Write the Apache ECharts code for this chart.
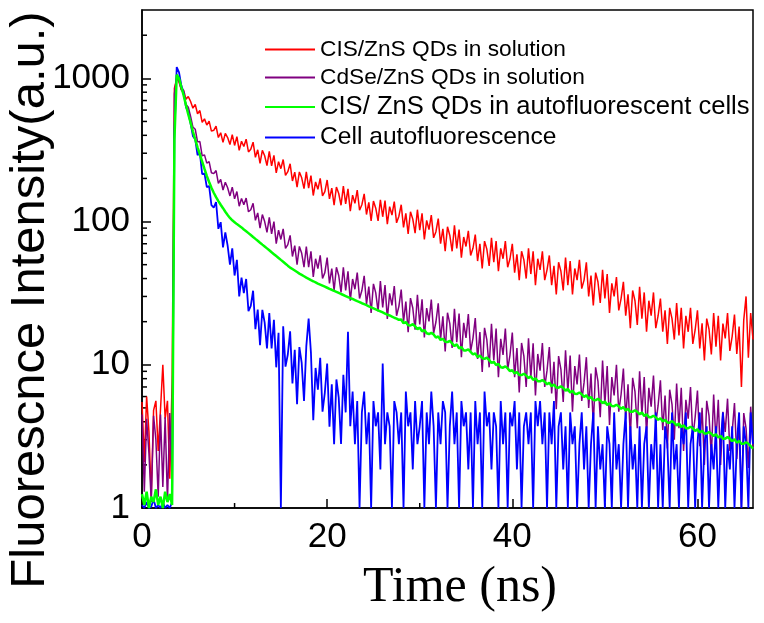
<!DOCTYPE html>
<html>
<head>
<meta charset="utf-8">
<title>Fluorescence decay</title>
<script src="https://cdn.jsdelivr.net/npm/echarts@6.0.0/dist/echarts.min.js"></script>
<style>
  html, body { margin: 0; padding: 0; background: #fff; }
  #chart { width: 764px; height: 623px; }
</style>
</head>
<body>
<div id="chart"></div>
<script>
// time channels (ns), one row = 2 ns
const timeNs = [
  0, 0.25, 0.5, 0.75, 1, 1.25, 1.5, 1.75,
  2, 2.25, 2.5, 2.75, 3, 3.25, 3.5, 3.75,
  4, 4.25, 4.5, 4.75, 5, 5.25, 5.5, 5.75,
  6, 6.25, 6.5, 6.75, 7, 7.25, 7.5, 7.75,
  8, 8.25, 8.5, 8.75, 9, 9.25, 9.5, 9.75,
  10, 10.25, 10.5, 10.75, 11, 11.25, 11.5, 11.75,
  12, 12.25, 12.5, 12.75, 13, 13.25, 13.5, 13.75,
  14, 14.25, 14.5, 14.75, 15, 15.25, 15.5, 15.75,
  16, 16.25, 16.5, 16.75, 17, 17.25, 17.5, 17.75,
  18, 18.25, 18.5, 18.75, 19, 19.25, 19.5, 19.75,
  20, 20.25, 20.5, 20.75, 21, 21.25, 21.5, 21.75,
  22, 22.25, 22.5, 22.75, 23, 23.25, 23.5, 23.75,
  24, 24.25, 24.5, 24.75, 25, 25.25, 25.5, 25.75,
  26, 26.25, 26.5, 26.75, 27, 27.25, 27.5, 27.75,
  28, 28.25, 28.5, 28.75, 29, 29.25, 29.5, 29.75,
  30, 30.25, 30.5, 30.75, 31, 31.25, 31.5, 31.75,
  32, 32.25, 32.5, 32.75, 33, 33.25, 33.5, 33.75,
  34, 34.25, 34.5, 34.75, 35, 35.25, 35.5, 35.75,
  36, 36.25, 36.5, 36.75, 37, 37.25, 37.5, 37.75,
  38, 38.25, 38.5, 38.75, 39, 39.25, 39.5, 39.75,
  40, 40.25, 40.5, 40.75, 41, 41.25, 41.5, 41.75,
  42, 42.25, 42.5, 42.75, 43, 43.25, 43.5, 43.75,
  44, 44.25, 44.5, 44.75, 45, 45.25, 45.5, 45.75,
  46, 46.25, 46.5, 46.75, 47, 47.25, 47.5, 47.75,
  48, 48.25, 48.5, 48.75, 49, 49.25, 49.5, 49.75,
  50, 50.25, 50.5, 50.75, 51, 51.25, 51.5, 51.75,
  52, 52.25, 52.5, 52.75, 53, 53.25, 53.5, 53.75,
  54, 54.25, 54.5, 54.75, 55, 55.25, 55.5, 55.75,
  56, 56.25, 56.5, 56.75, 57, 57.25, 57.5, 57.75,
  58, 58.25, 58.5, 58.75, 59, 59.25, 59.5, 59.75,
  60, 60.25, 60.5, 60.75, 61, 61.25, 61.5, 61.75,
  62, 62.25, 62.5, 62.75, 63, 63.25, 63.5, 63.75,
  64, 64.25, 64.5, 64.75, 65, 65.25, 65.5, 65.75,
  66
]

// CIS/ZnS QDs in solution (red)
const cisSolution = [
  5.5, 2.1, 6.0, 3.4, 1.2, 4.8, 5.6, 2.5,
  4.9, 10, 4.2, 5.6, 1.6, 7.5, 850, 1000,
  940, 833, 825, 714, 746, 689, 619, 657,
  566, 596, 492, 521, 472, 502, 428, 434,
  463, 386, 417, 357, 413, 386, 345, 405,
  340, 391, 314, 364, 334, 376, 306, 320,
  358, 281, 317, 255, 314, 288, 246, 309,
  245, 290, 219, 262, 234, 271, 210, 223,
  253, 192, 221, 174, 222, 202, 170, 222,
  171, 209, 152, 189, 168, 200, 151, 162,
  195, 144, 171, 130, 174, 157, 130, 177,
  133, 169, 118, 153, 134, 166, 120, 131,
  156, 112, 136, 101, 139, 124, 101, 142,
  108, 140, 96, 127, 111, 138, 98, 109,
  131, 91, 114, 82, 117, 104, 83, 121,
  87, 114, 75, 102, 88, 111, 77, 85,
  105, 70, 89, 62, 92, 80, 62, 94,
  65, 88, 56, 78, 67, 86, 58, 65,
  81, 53, 70, 47, 73, 64, 49, 77,
  52, 73, 45, 65, 55, 73, 48, 55,
  70, 44, 59, 39, 62, 54, 40, 65,
  43, 62, 36, 55, 46, 62, 39, 46,
  58, 36, 49, 31, 52, 45, 33, 56,
  36, 53, 31, 47, 39, 54, 34, 39,
  52, 30, 42, 26, 44, 38, 27, 46,
  29, 43, 23, 37, 30, 41, 24, 29,
  38, 22, 31, 18, 33, 28, 19, 35,
  21, 32, 17, 28, 22, 32, 18, 22,
  29, 17, 24, 14, 25, 21, 15, 27,
  16, 25, 13, 22, 17, 25, 14, 17.5,
  24, 13, 19.5, 10.7, 21, 17.7, 11.8, 23,
  13.4, 22, 10.7, 19.4, 15.3, 23, 12.5, 15.8,
  22.4, 11.9, 18.5, 7, 20.5, 30, 11.2, 23,
  15
]

// CdSe/ZnS QDs in solution (purple)
const cdseSolution = [
  4.5, 1.3, 4.2, 2.4, 1.1, 4.4, 3.0, 1.2,
  4.5, 1.4, 4.3, 1.1, 4.6, 1.5, 780, 1040,
  960, 830, 782, 656, 628, 543, 456, 441,
  360, 362, 288, 292, 256, 262, 219, 216,
  227, 185, 197, 166, 188, 172, 151, 174,
  144, 162, 128, 145, 131, 146, 117, 121,
  134, 102, 115, 90, 112, 100, 84, 107,
  82, 100, 70, 87, 75, 89, 65, 69,
  80, 57, 68, 50, 67, 60, 48, 67,
  48, 62, 41, 55, 47, 58, 40, 44,
  56, 37, 47, 33, 48, 42, 32, 48,
  33, 45, 28, 39.7, 33.7, 44, 29, 33,
  41.8, 26.5, 35.1, 23, 36.7, 31.8, 23.6, 38.4,
  25.1, 36, 20.9, 31.5, 26, 35.5, 22, 25.6,
  33.5, 19.9, 27.6, 16.9, 29.2, 24.9, 17.6, 30.8,
  19.1, 28.7, 15.5, 24.9, 20.1, 28.5, 16.6, 19.9,
  26.9, 15, 21.8, 12.4, 23.1, 19.4, 13.1, 24.6,
  14.4, 22.8, 11.3, 19.6, 15.4, 22.6, 12.4, 15.3,
  21.2, 11, 16.9, 8.9, 18.1, 14.9, 9.6, 19.3,
  10.7, 17.9, 8.2, 15.2, 11.7, 17.9, 9.3, 11.7,
  16.8, 8.2, 13.1, 6.4, 14.2, 11.5, 7, 15.3,
  8.1, 14.1, 6.1, 11.9, 9.1, 14.2, 7, 9.1,
  13.3, 6.3, 10.5, 4.9, 11.5, 9.3, 5.5, 12.6,
  6.5, 11.6, 4.7, 9.8, 7.3, 11.8, 5.6, 7.5,
  11.3, 5, 8.7, 3.75, 9.6, 7.7, 4.3, 10.7,
  5.3, 9.8, 3.8, 8.2, 6.1, 10, 4.7, 6.2,
  9.4, 4.2, 7.3, 3.1, 8.1, 6.5, 3.6, 9,
  4.5, 8.2, 3.2, 6.9, 5.1, 8.4, 3.9, 5.2,
  7.8, 3.5, 6.1, 2.6, 6.7, 5.3, 3, 7.4,
  3.6, 6.9, 2.5, 5.7, 4.2, 7, 3.1, 4.3,
  6.6, 2.7, 5, 2, 5.6, 4.4, 2.3, 6.2,
  2.9, 5.7, 2, 4.7, 3.4, 5.8, 2.5, 3.4,
  5.4, 2.2, 4.1, 1, 4.6, 3.6, 1.9, 5.1,
  2.6
]

// CIS/ZnS QDs in autofluorescent cells (green)
const cisInCells = [
  1.25, 1.05, 1.3, 1.0, 1.2, 1.1, 1.35, 1.05,
  1.2, 1.0, 1.3, 1.1, 1.25, 1.05, 370, 1060,
  1000, 870, 760, 650, 560, 490, 425, 375,
  330, 295, 262, 233, 208, 189, 172, 159,
  148, 139, 131, 124, 117, 111, 106, 102,
  99, 96, 93.5, 91, 88, 85.5, 83, 80.5,
  78, 75.7, 73.5, 71.2, 69, 67, 65, 63,
  61, 59.2, 57.4, 55.7, 54, 52.4, 50.8, 49.2,
  47.7, 46.6, 45.5, 44.4, 43.3, 42.4, 41.5, 40.6,
  39.8, 39.0, 38.3, 37.6, 36.9, 36.3, 35.7, 35.1,
  34.5, 33.9, 33.4, 32.8, 32.3, 31.8, 31.2, 30.7,
  30.2, 29.7, 29.2, 28.8, 28.3, 27.8, 27.4, 26.9,
  26.5, 26.1, 25.6, 25.2, 24.8, 24.4, 24.0, 23.6,
  23.2, 22.8, 22.4, 22.1, 21.7, 21.3, 21.0, 20.6,
  20.7, 19.5, 19.9, 18.9, 18.8, 19.2, 18.6, 17.7,
  18.2, 17.1, 17.5, 16.6, 16.4, 16.7, 16.3, 15.5,
  15.8, 14.9, 15.2, 14.5, 14.4, 14.7, 14.1, 13.5,
  13.9, 13.0, 13.3, 12.6, 12.6, 12.8, 12.3, 11.8,
  12.0, 11.3, 11.6, 11.1, 11.0, 11.2, 10.8, 10.3,
  10.5, 9.95, 10.15, 9.6, 9.55, 9.74, 9.44, 9.02,
  9.18, 8.68, 8.91, 8.5, 8.47, 8.66, 8.42, 8.08,
  8.3, 7.84, 8.05, 7.67, 7.66, 7.83, 7.62, 7.3,
  7.5, 7.08, 7.28, 6.94, 6.92, 7.07, 6.89, 6.6,
  6.78, 6.4, 6.58, 6.27, 6.26, 6.4, 6.22, 5.97,
  6.13, 5.79, 5.95, 5.67, 5.65, 5.78, 5.63, 5.39,
  5.54, 5.24, 5.39, 5.15, 5.14, 5.26, 5.13, 4.92,
  5.07, 4.79, 4.93, 4.7, 4.7, 4.82, 4.7, 4.51,
  4.64, 4.39, 4.52, 4.31, 4.31, 4.41, 4.29, 4.13,
  4.24, 4.02, 4.13, 3.95, 3.94, 4.04, 3.93, 3.77,
  3.89, 3.68, 3.78, 3.61, 3.6, 3.69, 3.6, 3.45,
  3.55, 3.36, 3.46, 3.31, 3.31, 3.39, 3.3, 3.18,
  3.27, 3.1, 3.19, 3.05, 3.05, 3.13, 3.05, 2.93,
  3.02, 2.86, 2.94, 2.81, 2.81, 2.88, 2.81, 2.7,
  2.6
]

// Cell autofluorescence (blue); late counts sit on a few discrete levels
const cellAuto = [
  1.05, 1, 1.1, 1, 1.02, 1.15, 1, 1.05,
  1, 1.1, 1, 1.05, 1, 1.1, 400, 1200,
  1100, 890, 800, 630, 580, 483, 395, 375,
  291, 301, 214, 217, 174, 177, 130, 125,
  137, 89, 99, 66, 84, 68, 50, 65,
  42, 54, 30, 40.6, 31.6, 39.7, 23.7, 25.8,
  32.9, 17.7, 24.3, 13.7, 24.2, 19.7, 13, 23,
  13, 20.6, 9.6, 16.7, 1, 18.6, 9.7, 11.8,
  17.1, 7.4, 12.7, 5.3, 13.3, 10.3, 5.6, 13.5,
  21, 12.1, 4.1, 9.5, 6.7, 11.2, 4.7, 6.4,
  10.2, 3.7, 7.3, 2.79, 7.9, 5.9, 2.8, 8.5,
  4.65, 17, 3.72, 6.5, 2.79, 5.58, 1, 4.65,
  6.5, 2.79, 4.65, 1, 5.58, 3.72, 4.65, 1.86,
  10.2, 2.79, 4.65, 3.72, 1, 5.58, 4.65, 2.79,
  4.65, 1, 6.5, 3.72, 4.65, 1.86, 5.58, 2.79,
  3.72, 5.58, 1, 4.65, 2.79, 6.5, 3.72, 1,
  4.65, 2.79, 5.58, 4.65, 1, 3.72, 6.5, 2.79,
  4.65, 1, 5.58, 3.72, 4.65, 1.86, 4.65, 1,
  5.58, 2.79, 4.65, 1, 6.5, 3.72, 4.65, 1.86,
  4.65, 3.72, 1, 5.58, 2.79, 4.65, 1, 4.65,
  3.72, 5.58, 1.86, 4.65, 1, 3.72, 4.65, 2.79,
  4.65, 1, 5.58, 3.72, 5.58, 2.79, 4.65, 1,
  4.65, 2.79, 5.58, 1, 3.72, 4.65, 1.86, 3.72,
  1, 4.65, 2.79, 3.72, 1, 2.79, 4.65, 1.86,
  3.72, 1, 2.79, 4.65, 1, 3.72, 1.86, 2.79,
  1, 3.72, 2.79, 1, 4.65, 1.86, 2.79, 1,
  2.79, 4.65, 1, 3.72, 1.86, 2.79, 1, 3.72,
  1, 2.79, 3.72, 1, 2.79, 1.86, 4.65, 1,
  2.79, 1, 3.72, 2.79, 1, 4.65, 1.86, 2.79,
  1, 3.72, 2.79, 4.65, 1, 2.79, 3.72, 1,
  2.79, 4.65, 1, 2.79, 3.72, 1, 2.79, 1.86,
  3.72, 1, 2.79, 4.65, 1, 2.79, 1.86, 3.72,
  1, 2.79, 4.65, 1, 3.72, 2.79, 1, 4.65,
  2.79
]

const seriesNames = [
  'CIS/ZnS QDs in solution',
  'CdSe/ZnS QDs in solution',
  'CIS/ ZnS QDs in autofluorescent cells',
  'Cell autofluorescence'
]
const seriesColors = ['#ff0000', '#800080', '#00ff00', '#0000ff']
// the last two legend entries are set larger in the original
const legendFontSizes = [22.7, 22.7, 25.6, 24.6]

const xMinorTicks = [10, 30, 50]
const yMinorTicks = [2, 3, 4, 5, 6, 7, 8, 9, 20, 30, 40, 50, 60, 70, 80, 90,
  200, 300, 400, 500, 600, 700, 800, 900, 2000]

const sansFont = 'Arial, "Liberation Sans", sans-serif'
const serifFont = '"Times New Roman", "Liberation Serif", serif'

const pairs = vals => timeNs.map((t, i) => [t, vals[i]])

const lineSeries = (idx, vals, width) => ({
  name: seriesNames[idx],
  type: 'line',
  data: pairs(vals),
  color: seriesColors[idx],
  showSymbol: false,
  symbol: 'none',
  clip: true,
  lineStyle: { color: seriesColors[idx], width: width },
  itemStyle: { color: seriesColors[idx] },
  emphasis: { disabled: true },
  animation: false
})

const chart = echarts.init(document.getElementById('chart'), null, { renderer: 'canvas' })

const option = {
  backgroundColor: '#fff',
  animation: false,
  grid: {
    left: 142,
    right: 11,
    top: 10,
    bottom: 115,
    show: true,
    borderColor: '#000',
    borderWidth: 1.5,
    backgroundColor: 'transparent'
  },
  legend: {
    data: seriesNames.map((name, i) => ({ name: name, textStyle: { fontSize: legendFontSizes[i] } })),
    orient: 'vertical',
    left: 260,
    top: 33,
    itemWidth: 50,
    itemHeight: 2,
    itemGap: 5,
    icon: 'rect',
    selectedMode: false,
    textStyle: { fontFamily: sansFont, fontSize: 22.7, color: '#000' }
  },
  xAxis: {
    type: 'value',
    min: 0,
    max: 66,
    interval: 20,
    axisLine: { show: true, lineStyle: { color: '#000', width: 1.5 } },
    axisTick: { show: true, inside: true, length: 9, lineStyle: { color: '#000', width: 1.5 } },
    axisLabel: {
      showMaxLabel: false,
      margin: 12,
      color: '#000',
      fontFamily: sansFont,
      fontSize: 35
    },
    splitLine: { show: false }
  },
  yAxis: {
    type: 'log',
    logBase: 10,
    min: 1,
    max: 3000,
    axisLine: { show: true, lineStyle: { color: '#000', width: 1.5 } },
    axisTick: { show: true, inside: true, length: 9, lineStyle: { color: '#000', width: 1.5 } },
    axisLabel: {
      showMaxLabel: false,
      margin: 12,
      color: '#000',
      fontFamily: sansFont,
      fontSize: 35,
      formatter: v => String(Math.round(v))
    },
    splitLine: { show: false }
  },
  graphic: [
    {
      type: 'text',
      x: 30,
      y: 300,
      rotation: Math.PI / 2,
      style: {
        text: 'Fluorescnce Intensity(a.u.)',
        fill: '#000',
        font: '49px ' + sansFont,
        textAlign: 'center',
        textVerticalAlign: 'middle'
      }
    },
    {
      type: 'text',
      x: 460,
      y: 588,
      style: {
        text: 'Time (ns)',
        fill: '#000',
        font: '50px ' + serifFont,
        textAlign: 'center',
        textVerticalAlign: 'middle'
      }
    }
  ],
  series: [
    lineSeries(0, cisSolution, 1.5),
    lineSeries(1, cdseSolution, 1.5),
    lineSeries(3, cellAuto, 1.8),
    lineSeries(2, cisInCells, 2.5),
    {
      // minor ticks on the log axis
      type: 'custom',
      silent: true,
      animation: false,
      data: yMinorTicks.map(v => [0, v]),
      renderItem: (params, api) => {
        const p = api.coord([api.value(0), api.value(1)])
        return {
          type: 'line',
          shape: { x1: p[0], y1: p[1], x2: p[0] + 5, y2: p[1] },
          style: { stroke: '#000', lineWidth: 1.5 }
        }
      }
    },
    {
      // minor ticks on the time axis
      type: 'custom',
      silent: true,
      animation: false,
      data: xMinorTicks.map(t => [t, 1]),
      renderItem: (params, api) => {
        const p = api.coord([api.value(0), api.value(1)])
        return {
          type: 'line',
          shape: { x1: p[0], y1: p[1], x2: p[0], y2: p[1] - 5 },
          style: { stroke: '#000', lineWidth: 1.5 }
        }
      }
    }
  ]
}

chart.setOption(option)
</script>
</body>
</html>
